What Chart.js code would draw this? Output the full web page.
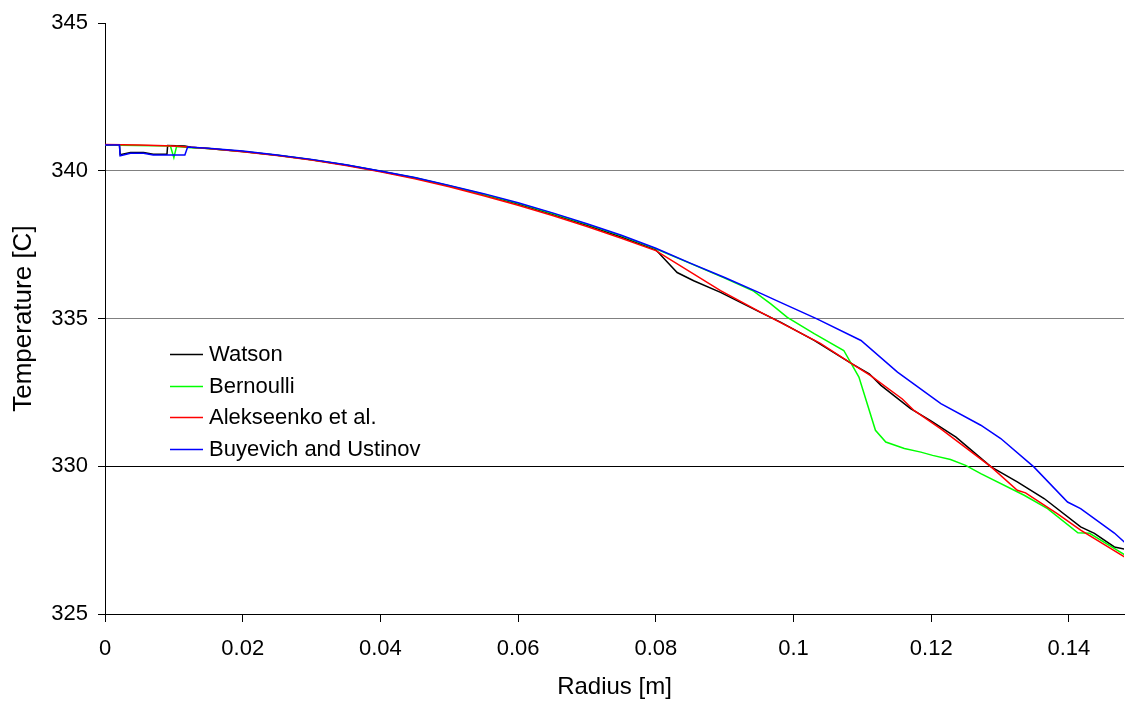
<!DOCTYPE html>
<html>
<head>
<meta charset="utf-8">
<title>Temperature vs Radius</title>
<script src="https://cdn.jsdelivr.net/npm/chart.js@4"></script>
<style>
  html, body { margin: 0; padding: 0; background: #fff; }
  #wrap { width: 1125px; height: 705px; }
</style>
</head>
<body>
<div id="wrap"><canvas id="tempChart" width="1125" height="705"></canvas></div>
<script>
// === Data: radius [m] and temperature [C] per model ===
const xTicks = [0, 0.02, 0.04, 0.06, 0.08, 0.1, 0.12, 0.14];
const yTicks = [325, 330, 335, 340, 345];

const watsonR = [0, 0.0021, 0.0022, 0.0037, 0.0056, 0.007, 0.009, 0.0091, 0.0116, 0.0125,
  0.015, 0.02, 0.025, 0.03, 0.035, 0.04, 0.045, 0.05, 0.055, 0.06, 0.065, 0.07, 0.075, 0.08,
  0.0831, 0.0855, 0.0894, 0.0952, 0.0981, 0.103, 0.1085, 0.111, 0.1127, 0.117, 0.1199,
  0.1236, 0.1287, 0.1325, 0.1364, 0.1417, 0.1437, 0.1466, 0.1482];
const watsonT = [340.88, 340.88, 340.55, 340.62, 340.62, 340.56, 340.56, 340.86, 340.84, 340.8,
  340.76, 340.66, 340.53, 340.38, 340.2, 339.99, 339.76, 339.49, 339.2, 338.88, 338.53, 338.16, 337.76, 337.33,
  336.56, 336.28, 335.89, 335.21, 334.88, 334.26, 333.47, 333.13, 332.74, 331.95, 331.55,
  330.99, 329.98, 329.47, 328.91, 327.95, 327.73, 327.27, 327.19];

const bernoulliR = [0, 0.0095, 0.01, 0.0104, 0.0125,
  0.015, 0.02, 0.025, 0.03, 0.035, 0.04, 0.045, 0.05, 0.055, 0.06, 0.065, 0.07, 0.075, 0.08,
  0.085, 0.09, 0.0942, 0.0967, 0.0991, 0.103, 0.1073, 0.1095, 0.1119, 0.1134, 0.1161, 0.1185,
  0.1202, 0.1228, 0.125, 0.1272, 0.1335, 0.1369, 0.1413, 0.143, 0.1482];
const bernoulliT = [340.88, 340.84, 340.45, 340.83, 340.78,
  340.76, 340.66, 340.53, 340.38, 340.2, 339.99, 339.77, 339.5, 339.21, 338.9, 338.56, 338.19, 337.8, 337.36,
  336.87, 336.37, 335.93, 335.5, 335.04, 334.49, 333.92, 333.02, 331.22, 330.82, 330.6, 330.48,
  330.37, 330.23, 330.03, 329.75, 329.02, 328.57, 327.75, 327.73, 326.99];

const alekseenkoR = [0, 0.005, 0.01,
  0.015, 0.02, 0.025, 0.03, 0.035, 0.04, 0.045, 0.05, 0.055, 0.06, 0.065, 0.07, 0.075, 0.08,
  0.0894, 0.0952, 0.1039, 0.1085, 0.1112, 0.1158, 0.1175, 0.1214, 0.1287, 0.1325, 0.1337,
  0.1383, 0.1417, 0.1482];
const alekseenkoT = [340.89, 340.88, 340.84,
  340.76, 340.65, 340.52, 340.37, 340.18, 339.97, 339.73, 339.46, 339.16, 338.84, 338.49, 338.12, 337.72, 337.3,
  335.95, 335.22, 334.16, 333.47, 333.07, 332.28, 331.89, 331.27, 329.98, 329.19, 329.1,
  328.4, 327.84, 326.91];

const buyevichR = [0, 0.0021, 0.0022, 0.0037, 0.0056, 0.007, 0.009, 0.0116, 0.012,
  0.015, 0.02, 0.025, 0.03, 0.035, 0.04, 0.045, 0.05, 0.055, 0.06, 0.065, 0.07, 0.075, 0.08,
  0.085, 0.09, 0.095, 0.0981, 0.1034, 0.1098, 0.1151, 0.1214, 0.1272, 0.1301, 0.1349,
  0.1398, 0.1417, 0.1466, 0.1482];
const buyevichT = [340.88, 340.88, 340.51, 340.6, 340.6, 340.54, 340.54, 340.54, 340.81,
  340.77, 340.67, 340.54, 340.39, 340.21, 340.0, 339.78, 339.51, 339.23, 338.92, 338.58, 338.21, 337.82, 337.38,
  336.88, 336.39, 335.88, 335.55, 334.99, 334.26, 333.19, 332.12, 331.39, 330.94, 329.98,
  328.79, 328.57, 327.74, 327.4];

const seriesNames = ["Watson", "Bernoulli", "Alekseenko et al.", "Buyevich and Ustinov"];
const seriesColors = ["#000000", "#00ff00", "#ff0000", "#0000ff"];

const FONT = "'Liberation Sans', Arial, sans-serif";

// pair up x/y arrays for a scatter-style line
const toPoints = (xs, ys) => xs.map((x, i) => ({ x, y: ys[i] }));

// === Legend drawn inside the plot area ===
const innerLegend = {
  id: "innerLegend",
  afterDatasetsDraw(chart) {
    const { ctx, chartArea } = chart;
    const x0 = chartArea.left + 65;
    const y0 = chartArea.top + 331;
    ctx.save();
    ctx.font = "22px " + FONT;
    ctx.textBaseline = "middle";
    ctx.fillStyle = "#000";
    chart.data.datasets.forEach((ds, i) => {
      const y = Math.round(y0 + i * 31.5) + 0.5;
      ctx.strokeStyle = ds.borderColor;
      ctx.lineWidth = 1.3;
      ctx.beginPath();
      ctx.moveTo(x0, y);
      ctx.lineTo(x0 + 33, y);
      ctx.stroke();
      ctx.fillText(ds.label, x0 + 39, y);
    });
    ctx.restore();
  },
};

const xySets = [
  [watsonR, watsonT],
  [bernoulliR, bernoulliT],
  [alekseenkoR, alekseenkoT],
  [buyevichR, buyevichT],
];
// blue drawn on top, black at the bottom
const drawOrder = [3, 2, 1, 0];

const datasets = xySets.map(([xs, ys], i) => ({
  label: seriesNames[i],
  data: toPoints(xs, ys),
  borderColor: seriesColors[i],
  backgroundColor: seriesColors[i],
  borderWidth: 1.5,
  pointRadius: 0,
  tension: 0,
  fill: false,
  showLine: true,
  order: drawOrder[i],
}));

new Chart(document.getElementById("tempChart"), {
  type: "scatter",
  data: { datasets },
  options: {
    responsive: false,
    animation: false,
    events: [],
    layout: { autoPadding: false, padding: { top: 22, right: 1, left: 0, bottom: 0 } },
    plugins: { legend: { display: false }, tooltip: { enabled: false } },
    scales: {
      x: {
        type: "linear",
        min: 0,
        max: 0.148,
        afterBuildTicks: (s) => { s.ticks = xTicks.map((v) => ({ value: v })); },
        afterFit: (s) => { s.height = 91; },
        ticks: {
          color: "#000",
          font: { family: FONT, size: 22 },
          padding: 14,
          maxRotation: 0,
          autoSkip: false,
          callback: (v) => String(+v.toFixed(2)),
        },
        grid: { drawOnChartArea: false, drawTicks: true, tickLength: 8, tickColor: "#000" },
        border: { display: true, color: "#000", width: 1 },
        title: {
          display: true,
          text: "Radius [m]",
          color: "#000",
          font: { family: FONT, size: 24 },
          padding: { top: 0, bottom: 3 },
        },
      },
      y: {
        type: "linear",
        min: 325,
        max: 345,
        afterBuildTicks: (s) => { s.ticks = yTicks.map((v) => ({ value: v })); },
        afterFit: (s) => { s.width = 105; },
        ticks: {
          color: "#000",
          font: { family: FONT, size: 22 },
          padding: 10,
        },
        grid: {
          drawOnChartArea: true,
          drawTicks: true,
          tickLength: 7,
          tickColor: "#000",
          lineWidth: 1,
          color: (c) => {
            const v = c.tick && c.tick.value;
            if (v === 345 || v === 325) return "rgba(0,0,0,0)";
            return v === 330 ? "#000" : "#808080";
          },
        },
        border: { display: true, color: "#000", width: 1 },
        title: {
          display: true,
          text: "Temperature [C]",
          color: "#000",
          font: { family: FONT, size: 26 },
          padding: { top: 8, bottom: 0 },
        },
      },
    },
  },
  plugins: [innerLegend],
});
</script>
</body>
</html>
